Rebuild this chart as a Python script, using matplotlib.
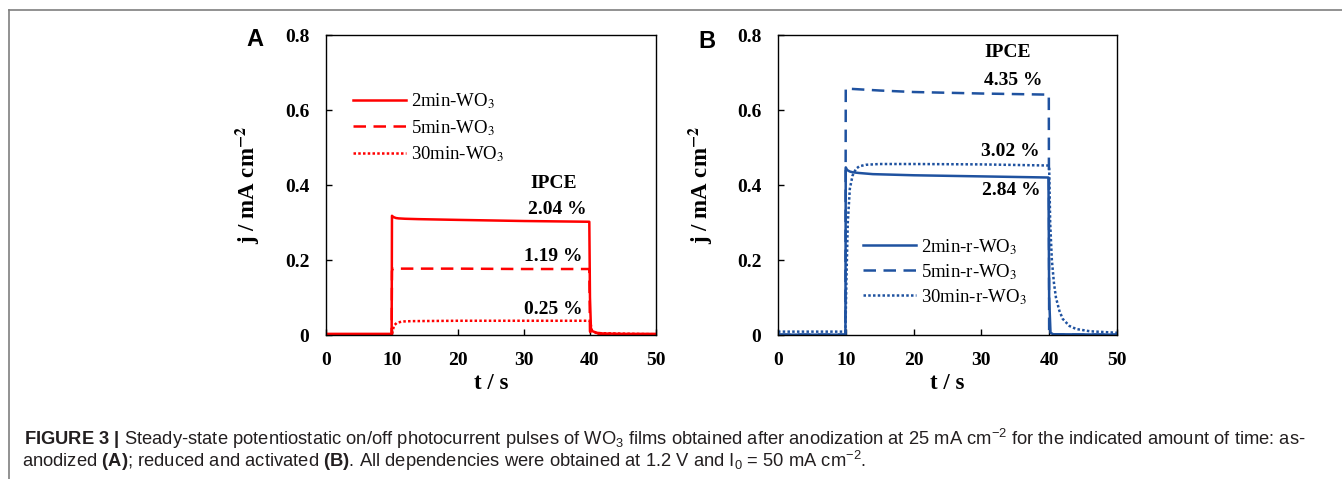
import matplotlib

matplotlib.use("Agg")

import matplotlib.pyplot as plt
from matplotlib.lines import Line2D

plt.rcParams["font.family"] = ["Liberation Serif", "DejaVu Serif"]
plt.rcParams["mathtext.fontset"] = "custom"
plt.rcParams["mathtext.rm"] = "Liberation Sans"
plt.rcParams["mathtext.bf"] = "Liberation Sans:bold"
plt.rcParams["mathtext.it"] = "Liberation Sans:italic"

RED = "#ff0000"
BLUE = "#1f52a0"

# ---- panel A: as-anodized ----
a_labels = ["2min-WO$_3$", "5min-WO$_3$", "30min-WO$_3$"]
a_t_2 = [0, 9.95, 10.0, 10.1, 10.3, 10.6, 11, 12, 14, 20, 30, 39.9, 40.0, 40.15, 40.4, 41, 42, 45, 50]
a_j_2 = [0.003, 0.003, 0.318, 0.316, 0.314, 0.312, 0.311, 0.310, 0.309, 0.307, 0.304, 0.302,
         0.1, 0.015, 0.01, 0.006, 0.004, 0.003, 0.003]
a_t_5 = [0, 9.95, 10, 10.1, 20, 30, 39.9, 40, 40.2, 50]
a_j_5 = [0.001, 0.001, 0.17, 0.177, 0.177, 0.176, 0.176, 0.01, 0.002, 0.001]
a_t_30 = [0, 10, 10.3, 10.7, 11.5, 13, 20, 30, 40, 40.3, 41, 50]
a_j_30 = [0.002, 0.002, 0.025, 0.032, 0.036, 0.037, 0.038, 0.038, 0.038, 0.012, 0.005, 0.002]
a_ipce = ["2.04 %", "1.19 %", "0.25 %"]
a_ipce_pos = [(35.0, 0.336), (34.5, 0.209), (34.5, 0.067)]
a_head_pos = (34.5, 0.403)

# ---- panel B: reduced and activated ----
b_labels = ["2min-r-WO$_3$", "5min-r-WO$_3$", "30min-r-WO$_3$"]
b_t_2 = [0, 9.95, 10, 10.2, 10.6, 11, 12, 14, 20, 30, 39.9, 40, 40.2, 40.6, 50]
b_j_2 = [0.001, 0.001, 0.447, 0.44, 0.436, 0.434, 0.432, 0.429, 0.426, 0.423, 0.42,
         0.1, 0.006, 0.002, 0.001]
b_t_5 = [0, 9.95, 10, 10.2, 15, 20, 30, 39.95, 40, 50]
b_j_5 = [0.001, 0.001, 0.658, 0.657, 0.652, 0.648, 0.644, 0.641, 0.001, 0.001]
b_t_30 = [0, 9.95, 10.1, 10.3, 10.6, 11, 11.5, 12, 13, 15, 20, 30, 39.9, 40, 40.15, 40.4,
          40.7, 41, 41.5, 42, 43, 44, 46, 50]
b_j_30 = [0.009, 0.009, 0.15, 0.3, 0.39, 0.425, 0.443, 0.45, 0.454, 0.456, 0.456, 0.455,
          0.452, 0.45, 0.3, 0.2, 0.14, 0.1, 0.065, 0.043, 0.024, 0.016, 0.01, 0.006]
b_ipce = ["4.35 %", "3.02 %", "2.84 %"]
b_ipce_pos = [(34.7, 0.68), (34.3, 0.489), (34.4, 0.385)]
b_head_pos = (33.9, 0.754)

x_ticks = [0, 10, 20, 30, 40, 50]
y_ticks = [0, 0.2, 0.4, 0.6, 0.8]
y_ticklabels = ["0", "0.2", "0.4", "0.6", "0.8"]

DASH = (0, (5, 3))
DOT = (0, (1, 0.9))
LW = 1.8


def style_axes(ax, ylab_x):
    ax.set_xlim(0, 50)
    ax.set_ylim(0, 0.8)
    ax.set_xticks(x_ticks)
    ax.set_yticks(y_ticks)
    ax.set_yticklabels(y_ticklabels)
    ax.tick_params(direction="in", length=4.5, width=1, pad=12, labelsize=14)
    for lab in ax.get_xticklabels() + ax.get_yticklabels():
        lab.set_fontweight("bold")
    for sp in ax.spines.values():
        sp.set_linewidth(1.0)
    ax.set_xlabel("t / s", fontsize=16.5, fontweight="bold")
    ax.set_ylabel(r"j / mA cm$^{\mathbf{-2}}$", fontsize=16.5, fontweight="bold",
                  math_fontfamily="stix")
    ax.xaxis.set_label_coords(0.5, -0.125)
    ax.yaxis.set_label_coords(ylab_x, 0.5)


def draw_panel(ax, color, series, labels, ipce, ipce_pos, head_pos, leg_anchor, leg_gap, ylab_x):
    styles = ["-", DASH, DOT]
    for (t, j), ls, lab in zip(series, styles, labels):
        ax.plot(t, j, color=color, linestyle=ls, linewidth=LW, label=lab)
    style_axes(ax, ylab_x)
    ax.text(*head_pos, "IPCE", ha="center", va="center", fontsize=14, fontweight="bold")
    for txt, pos in zip(ipce, ipce_pos):
        ax.text(*pos, txt, ha="center", va="center", fontsize=14, fontweight="bold")
    leg = ax.legend(loc="upper left", bbox_to_anchor=leg_anchor, frameon=False,
                    fontsize=13.5, handlelength=2.8, handletextpad=0.3,
                    labelspacing=leg_gap, borderpad=0, borderaxespad=0)
    for t in leg.get_texts():
        t.set_math_fontfamily("stix")


fig = plt.figure(figsize=(13.42, 4.79), dpi=100)
ax_a = fig.add_axes([0.2429, 0.3006, 0.2459, 0.6263])
ax_b = fig.add_axes([0.5797, 0.3006, 0.2526, 0.6263])

draw_panel(ax_a, RED, [(a_t_2, a_j_2), (a_t_5, a_j_5), (a_t_30, a_j_30)], a_labels,
           a_ipce, a_ipce_pos, a_head_pos, (0.082, 0.812), 0.37, -0.194)
draw_panel(ax_b, BLUE, [(b_t_2, b_j_2), (b_t_5, b_j_5), (b_t_30, b_j_30)], b_labels,
           b_ipce, b_ipce_pos, b_head_pos, (0.251, 0.327), 0.28, -0.186)

# panel letters
fig.text(255 / 1342, 1 - 40 / 479, "A", ha="center", va="center",
         family="Liberation Sans", fontweight="bold", fontsize=17)
fig.text(707 / 1342, 1 - 41 / 479, "B", ha="center", va="center",
         family="Liberation Sans", fontweight="bold", fontsize=17)

# page frame (top and left rule)
frame_x = 9 / 1342
frame_y = 1 - 10 / 479
fig.add_artist(Line2D([frame_x, 1], [frame_y, frame_y], color="#7f7f7f", linewidth=1.2))
fig.add_artist(Line2D([frame_x, frame_x], [0, frame_y], color="#7f7f7f", linewidth=1.2))

# caption
cap1 = (r"$\mathbf{FIGURE\ 3\ |}$ Steady-state potentiostatic on/off photocurrent pulses of "
        r"WO$_3$ films obtained after anodization at 25 mA cm$^{-2}$ for the indicated "
        r"amount of time: as-")
cap2 = (r"anodized $\mathbf{(A)}$; reduced and activated $\mathbf{(B)}$. All dependencies "
        r"were obtained at 1.2 V and I$_0$ = 50 mA cm$^{-2}$.")
fig.text(24 / 1342, 1 - 445 / 479, cap1, ha="left", va="baseline",
         family="Liberation Sans", fontsize=13.2, color="#231f20", math_fontfamily="custom")
fig.text(22 / 1342, 1 - 467 / 479, cap2, ha="left", va="baseline",
         family="Liberation Sans", fontsize=13.2, color="#231f20", math_fontfamily="custom")

fig.savefig("out.png", dpi=100)
